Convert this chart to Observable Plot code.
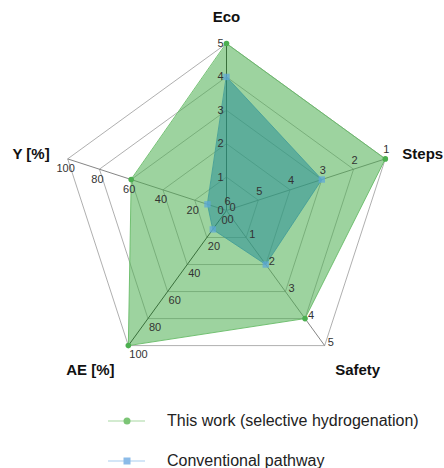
<!DOCTYPE html>
<html><head><meta charset="utf-8">
<script src="https://cdn.jsdelivr.net/npm/d3@7"></script>
<script src="https://cdn.jsdelivr.net/npm/@observablehq/plot@0.6"></script>
<style>
body{margin:0;background:#fff;font-family:"Liberation Sans",Arial,sans-serif;}
#chart svg{display:block;}
#legend{position:relative;width:444px;height:73px;}
.row{position:absolute;left:0;height:20px;display:flex;align-items:center;font-size:16px;color:#222;}
</style></head><body><div id="chart"></div><div id="legend"></div>
<script>
// ---- data ----
const axesNames = ["Eco", "Steps", "Safety", "AE [%]", "Y [%]"];
const axesAngles = [90, 18, -54, -126, 162];
const ecoTicks = [0, 1, 2, 3, 4, 5];
const stepsTicks = [6, 5, 4, 3, 2, 1];
const safetyTicks = [0, 1, 2, 3, 4, 5];
const aeTicks = [0, 20, 40, 60, 80, 100];
const yTicks = [0, 20, 40, 60, 80, 100];
const seriesNames = ["This work (selective hydrogenation)", "Conventional pathway"];
const thisWork = [5, 1, 4, 100, 60];
const conventional = [4, 3, 2, 14, 12];

// ---- scaling of each axis to a 0..1 radius ----
const norm = [v => v / 5, v => (6 - v) / 5, v => v / 5, v => v / 100, v => v / 100];
const tickSets = [ecoTicks, stepsTicks, safetyTicks, aeTicks, yTicks];
const rad = a => a * Math.PI / 180;
const pos = (i, r) => ({x: r * Math.cos(rad(axesAngles[i])), y: r * Math.sin(rad(axesAngles[i]))});

const rings = [];
for (let k = 1; k <= 5; k++) for (let i = 0; i <= 5; i++) rings.push({ring: k, ...pos(i % 5, k / 5)});
const spokes = axesNames.map((n, i) => ({axis: i, ...pos(i, 1)}));

const tickData = [];
tickSets.forEach((t, i) => t.forEach(v => tickData.push({axis: i, label: String(v), ...pos(i, norm[i](v))})));

const seriesPts = (vals, s) => vals.map((v, i) => ({series: s, ...pos(i, norm[i](v))}));
const green = seriesPts(thisWork, 0);
const blue = seriesPts(conventional, 1);

const tickStyle = [
  {textAnchor: "end", dx: -3, dy: 0},
  {textAnchor: "middle", dx: 1, dy: -9},
  {textAnchor: "start", dx: 3, dy: -3},
  {textAnchor: "start", dx: 1, dy: 9},
  {textAnchor: "middle", dx: -2, dy: 10}
];
const titleStyle = [
  {textAnchor: "middle", dx: 0, dy: -26},
  {textAnchor: "start", dx: 17, dy: -5},
  {textAnchor: "middle", dx: 33, dy: 25},
  {textAnchor: "middle", dx: -38, dy: 25},
  {textAnchor: "end", dx: -18, dy: -5}
];

const marks = [
  Plot.line(rings, {x: "x", y: "y", z: "ring", stroke: "#9a9a9a", strokeWidth: 0.8}),
  Plot.link(spokes.filter(d => d.axis === 0 || d.axis === 3), {x1: 0, y1: 0, x2: "x", y2: "y", stroke: "#222", strokeWidth: 1}),
  Plot.link(spokes.filter(d => d.axis !== 0 && d.axis !== 3), {x1: 0, y1: 0, x2: "x", y2: "y", stroke: "#777", strokeWidth: 0.9}),
  Plot.line(green, {x: "x", y: "y", curve: "linear-closed", fill: "#4caf50", fillOpacity: 0.55, stroke: "#66bb66", strokeWidth: 0.9}),
  Plot.line(blue, {x: "x", y: "y", curve: "linear-closed", fill: "#2a8f96", fillOpacity: 0.55, stroke: "#3d9a98", strokeWidth: 0.8}),
  Plot.dot(green, {x: "x", y: "y", r: 2.8, fill: "#4caf50", stroke: "none"}),
  Plot.dot(blue, {x: "x", y: "y", r: 3.6, symbol: "square", fill: "#5fa8d8", fillOpacity: 0.75, stroke: "none"})
];
tickStyle.forEach((st, i) => {
  marks.push(Plot.text(tickData.filter(d => d.axis === i), {x: "x", y: "y", text: "label", ...st, fontSize: 11, fill: "#333", fontFamily: "Liberation Sans, Arial, sans-serif"}));
});
titleStyle.forEach((st, i) => {
  marks.push(Plot.text([spokes[i]], {x: "x", y: "y", text: () => axesNames[i], ...st, fontSize: 15, fontWeight: "bold", fill: "#111", fontFamily: "Liberation Sans, Arial, sans-serif"}));
});

const chart = Plot.plot({
  width: 444, height: 395,
  marginLeft: 59, marginRight: 51, marginTop: 43, marginBottom: 18,
  x: {domain: [-1, 1], axis: null},
  y: {domain: [-1, 1], axis: null},
  style: {background: "#fff", overflow: "visible"},
  marks
});
document.getElementById("chart").append(chart);

// ---- legend ----
const legendColors = [{line: "#a8d8a2", mark: "#7cc576", shape: "circle"}, {line: "#a9cdf0", mark: "#8bbbe8", shape: "square"}];
const leg = d3.select("#legend");
seriesNames.forEach((name, i) => {
  const row = leg.append("div").attr("class", "row").style("top", (16 + i * 40) + "px");
  const s = row.append("svg").attr("width", 167).attr("height", 20);
  s.append("line").attr("x1", 108).attr("x2", 145).attr("y1", 10).attr("y2", 10).attr("stroke", legendColors[i].line).attr("stroke-width", 1.2);
  if (legendColors[i].shape === "circle") s.append("circle").attr("cx", 127).attr("cy", 10).attr("r", 3.5).attr("fill", legendColors[i].mark);
  else s.append("rect").attr("x", 123.5).attr("y", 6.5).attr("width", 7).attr("height", 7).attr("fill", legendColors[i].mark);
  row.append("span").text(name);
});
</script></body></html>
